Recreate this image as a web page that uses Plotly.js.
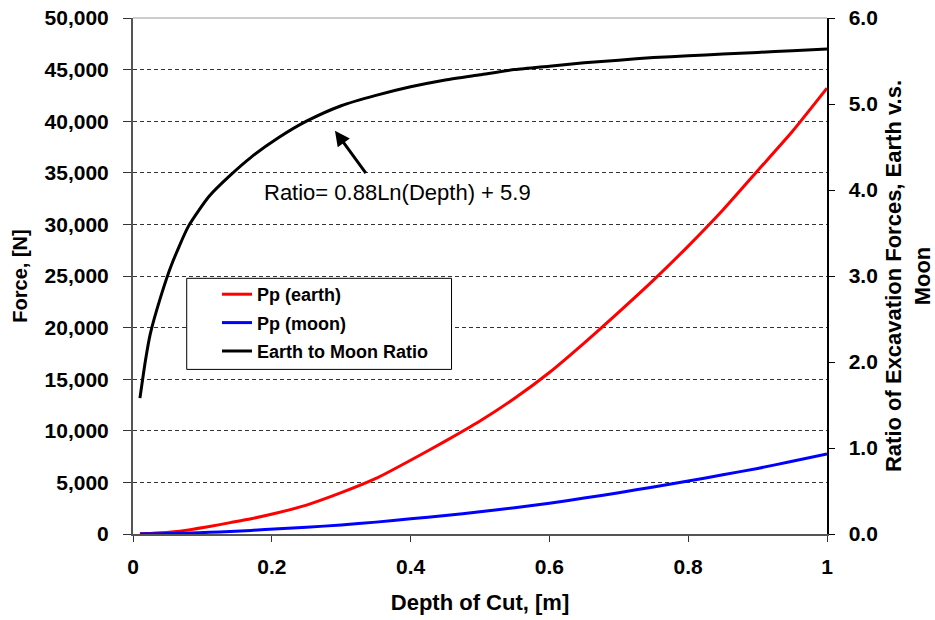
<!DOCTYPE html>
<html>
<head>
<meta charset="utf-8">
<script src="https://cdn.plot.ly/plotly-3.0.1.min.js"></script>
<style>html,body{margin:0;padding:0;background:#fff;}#chart{width:935px;height:620px;}</style>
</head>
<body>
<div id="chart"></div>
<script>
// Depth of cut, [m]
var depth = [0.01,0.018,0.025,0.04,0.055,0.08,0.11,0.14,0.17,0.21,0.25,0.3,0.35,0.4,0.45,0.5,0.55,0.6,0.65,0.7,0.75,0.8,0.85,0.9,0.95,1.0];
// Pp (earth), [N]
var ppEarth = [20,40,60,120,200,400,720,1100,1480,2080,2800,4000,5380,7150,9000,10950,13150,15650,18500,21500,24600,27900,31400,35200,39000,43200];
// Pp (moon), [N]
var ppMoon = [10,15,20,30,50,90,160,250,350,500,650,880,1150,1470,1790,2150,2550,2970,3480,4000,4560,5130,5740,6350,7050,7750];
// Earth to Moon ratio
var ratio = [1.58,2.02,2.33,2.76,3.12,3.58,3.93,4.17,4.38,4.61,4.80,4.98,5.10,5.20,5.28,5.34,5.40,5.44,5.48,5.51,5.54,5.56,5.58,5.60,5.62,5.64];

var xTicks = [0,0.2,0.4,0.6,0.8,1];
var xTickText = ['0','0.2','0.4','0.6','0.8','1'];
var names = ['Pp (earth)','Pp (moon)','Earth to Moon Ratio'];
var eqText = 'Ratio= 0.88Ln(Depth) + 5.9';
var leftTitle = 'Force, [N]';
var rightTitle = 'Ratio of Excavation Forces, Earth v.s.<br>Moon';
var xTitle = 'Depth of Cut, [m]';

var FF = 'Liberation Sans, Arial, sans-serif';
var boldFont = function(s){ return {family: FF, size: s, color: '#000', weight: 'bold'}; };

var traces = [
  {x: depth, y: ppEarth, name: names[0], type: 'scatter', mode: 'lines', line: {color: '#FF0000', width: 3, shape: 'spline', smoothing: 0.6}, legendgroup: 'a', yaxis: 'y'},
  {x: depth, y: ppMoon, name: names[1], type: 'scatter', mode: 'lines', line: {color: '#0000FF', width: 3, shape: 'spline', smoothing: 0.6}, legendgroup: 'b', yaxis: 'y'},
  {x: depth, y: ratio, name: names[2], type: 'scatter', mode: 'lines', line: {color: '#000000', width: 3, shape: 'spline', smoothing: 0.6}, legendgroup: 'c', yaxis: 'y2'}
];

var layout = {
  width: 935, height: 620,
  margin: {l: 133, r: 108, t: 18, b: 86, pad: 0},
  paper_bgcolor: '#fff', plot_bgcolor: '#fff',
  font: {family: FF, color: '#000'},
  showlegend: true,
  legend: {
    x: 0.121, y: 0.5, xanchor: 'left', yanchor: 'top',
    font: boldFont(18), bgcolor: 'rgba(0,0,0,0)', borderwidth: 0,
    traceorder: 'grouped', tracegroupgap: 2
  },
  xaxis: {
    range: [0, 1], tickvals: xTicks, ticktext: xTickText,
    ticks: 'outside', ticklen: 6, tickwidth: 1, tickcolor: '#333',
    showline: true, linecolor: '#555', linewidth: 2,
    showgrid: false, zeroline: false,
    tickfont: boldFont(21), ticklabelstandoff: 7,
    title: {text: xTitle, font: boldFont(22), standoff: 17}
  },
  yaxis: {
    range: [0, 50000], dtick: 5000, tick0: 0, tickformat: ',d',
    ticks: 'outside', ticklen: 8, tickwidth: 1, tickcolor: '#333',
    showline: true, linecolor: '#555', linewidth: 2,
    showgrid: true, gridcolor: '#333', gridwidth: 1, griddash: '4px,3px',
    zeroline: false,
    tickfont: boldFont(21), ticklabelstandoff: 10,
    title: {text: leftTitle, font: boldFont(20), standoff: 12}
  },
  yaxis2: {
    range: [0, 6], dtick: 1, tick0: 0, tickformat: '.1f',
    overlaying: 'y', side: 'right', anchor: 'x',
    ticks: 'outside', ticklen: 6, tickwidth: 1, tickcolor: '#000',
    showline: true, linecolor: '#000', linewidth: 1.5,
    showgrid: false, zeroline: false,
    tickfont: boldFont(21), ticklabelstandoff: 10,
    title: {text: rightTitle, font: boldFont(22), standoff: 13}
  },
  yaxis3: {
    range: [0, 6], dtick: 1, tick0: 0,
    overlaying: 'y', side: 'right', anchor: 'x',
    ticks: 'inside', ticklen: 7, tickwidth: 1, tickcolor: '#000',
    showline: false, showgrid: false, zeroline: false, showticklabels: false
  },
  shapes: [
    {type: 'line', xref: 'paper', yref: 'paper', x0: 0, x1: 1, y0: 1, y1: 1, line: {color: '#999', width: 1}},
    {type: 'rect', xref: 'paper', yref: 'paper', layer: 'above', x0: 0.0774, x1: 0.459, y0: 0.319, y1: 0.4955, line: {color: '#000', width: 1}, fillcolor: '#ffffff'}
  ],
  annotations: [
    {xref: 'paper', yref: 'paper', x: 0.381, y: 0.661, xanchor: 'center', yanchor: 'middle',
     text: eqText, showarrow: false, font: {family: FF, size: 22, color: '#000'}},
    {xref: 'x', yref: 'y', x: 0.291, y: 39080, text: '', showarrow: true,
     ax: 32, ay: 44, arrowhead: 2, arrowsize: 1, arrowwidth: 3, arrowcolor: '#000'}
  ]
};

Plotly.newPlot('chart', traces, layout, {staticPlot: true, displayModeBar: false});
</script>
</body>
</html>
